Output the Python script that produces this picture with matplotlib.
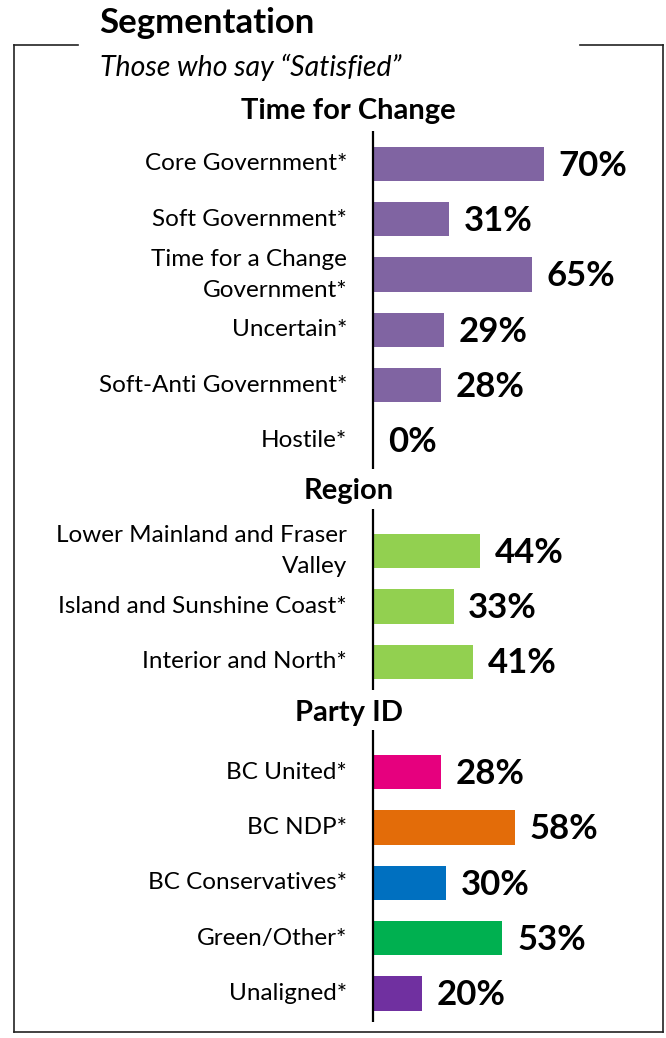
import matplotlib
matplotlib.use("Agg")
import matplotlib.pyplot as plt
from matplotlib.lines import Line2D

plt.rcParams['font.family'] = ['Lato', 'DejaVu Sans']

change_labels = ["Core Government*", "Soft Government*", "Time for a Change\nGovernment*",
                 "Uncertain*", "Soft-Anti Government*", "Hostile*"]
change_values = [70, 31, 65, 29, 28, 0]
region_labels = ["Lower Mainland and Fraser\nValley", "Island and Sunshine Coast*",
                 "Interior and North*"]
region_values = [44, 33, 41]
party_labels = ["BC United*", "BC NDP*", "BC Conservatives*", "Green/Other*", "Unaligned*"]
party_values = [28, 58, 30, 53, 20]
party_colors = ["#E6007E", "#E36C09", "#0070C0", "#00B050", "#7030A0"]

sections = [
    ("Time for Change", change_labels, change_values, ["#8064A2"] * len(change_values)),
    ("Region", region_labels, region_values, ["#92D050"] * len(region_values)),
    ("Party ID", party_labels, party_values, party_colors),
]

W, H = 666, 1038
PX = 2.443        # pixels per percentage point
X0 = 373          # pixel x of the bar baseline
ROW = 55.3        # pixels per row
Y0 = 164          # pixel y of the first row centre

fig = plt.figure(figsize=(W / 100, H / 100), dpi=100)
ax = fig.add_axes([0, 0, 1, 1])
ax.set_xlim(-X0 / PX, (W - X0) / PX)
ax.set_ylim((H - Y0) / ROW, -Y0 / ROW)
ax.axis("off")

slot = -1
for i, (title, labels, values, colors) in enumerate(sections):
    ax.text(-10, slot + (0.05 if i == 0 else -0.08), title, ha="center", va="center",
            fontsize=21, fontweight="bold")
    top = slot + (0.4 if i == 0 else 0.24)
    slot += 1
    ys = list(range(slot, slot + len(values)))
    ax.barh(ys, values, height=0.62, color=colors, left=0)
    for y, v, lab in zip(ys, values, labels):
        ax.text(-10.6, y, lab, ha="right", va="center", fontsize=17.5,
                linespacing=1.6)
        ax.text(v + 6, y + 0.03, f"{v}%", ha="left", va="center",
                fontsize=25, fontweight="bold")
    ax.plot([0, 0], [top, ys[-1] + 0.52], color="black", linewidth=1.6,
            solid_capstyle="butt")
    slot = ys[-1] + 1

# frame with a gap for the title
def fx(p):
    return p / W

def fy(p):
    return 1 - p / H

frame = [
    ([14, 78], [45, 45]),
    ([580, 663], [45, 45]),
    ([14, 14], [45, 1032]),
    ([663, 663], [45, 1032]),
    ([14, 663], [1032, 1032]),
]
for xs, ys in frame:
    fig.add_artist(Line2D([fx(x) for x in xs], [fy(y) for y in ys],
                          transform=fig.transFigure, color="#222222", linewidth=1.2))

fig.text(fx(99), fy(23), "Segmentation", ha="left", va="center",
         fontsize=25, fontweight="bold")
fig.text(fx(100), fy(67), "Those who say \u201cSatisfied\u201d", ha="left", va="center",
         fontsize=20.5, fontstyle="italic")

fig.savefig("out.png", dpi=100)
